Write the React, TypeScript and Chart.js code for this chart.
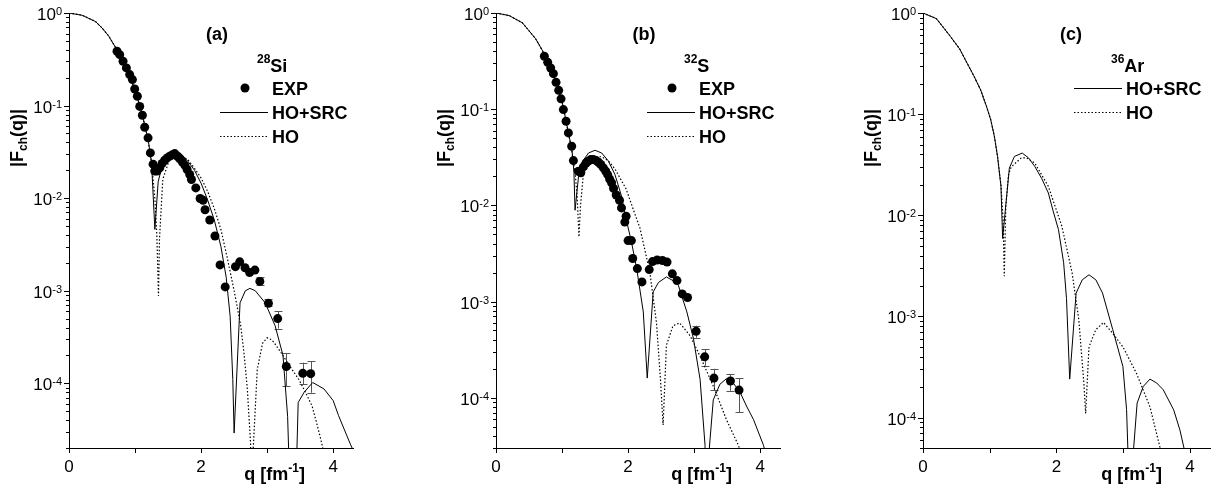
import React, { useEffect, useRef } from 'react';
import { Chart, registerables } from 'chart.js';

Chart.register(...registerables);

// ---------------- DATA ----------------
// x ticks
const xTickValues = [0, 1, 2, 3, 4];
const xLabelValues = [0, 2, 4];

// (a) 28Si
const siExpQ = [0.727, 0.768, 0.818, 0.869, 0.919, 0.96, 0.995, 1.035, 1.071, 1.111, 1.146, 1.197, 1.232, 1.273, 1.298, 1.333, 1.374, 1.409, 1.449, 1.485, 1.525, 1.566, 1.601, 1.626, 1.652, 1.677, 1.717, 1.753, 1.788, 1.828, 1.854, 1.92, 1.985, 2.03, 2.06, 2.131, 2.21, 2.287, 2.365, 2.52, 2.585, 2.665, 2.735, 2.815, 2.89, 3.02, 3.16, 3.29, 3.54, 3.66];
const siExpF = [0.386, 0.355, 0.301, 0.255, 0.216, 0.191, 0.151, 0.126, 0.098, 0.0787, 0.0584, 0.0448, 0.0308, 0.0233, 0.0196, 0.0196, 0.0212, 0.0237, 0.0257, 0.0272, 0.0284, 0.0294, 0.0303, 0.0289, 0.0279, 0.0266, 0.0246, 0.0227, 0.0204, 0.018, 0.0159, 0.0129, 0.0099, 0.0095, 0.0075, 0.0058, 0.0039, 0.0019, 0.0011, 0.00182, 0.00205, 0.00177, 0.00157, 0.00167, 0.00126, 0.00073, 0.0005, 0.000152, 0.000128, 0.000127];
const siErrQ = [2.89, 3.02, 3.16, 3.29, 3.54, 3.66];
const siErrLo = [0.00115, 0.00068, 0.00039, 0.000093, 0.000098, 0.000079];
const siErrHi = [0.0014, 0.00081, 0.0006, 0.00021, 0.000167, 0.000174];
const siSrcQ = [0, 0.2, 0.4, 0.5, 0.6, 0.7, 0.8, 0.9, 1.0, 1.1, 1.15, 1.2, 1.25, 1.3, 1.35, 1.4, 1.5, 1.6, 1.7, 1.8, 1.9, 2.0, 2.1, 2.2, 2.3, 2.38, 2.44, 2.48, 2.5, 2.59, 2.67, 2.74, 2.82, 2.97, 3.12, 3.24, 3.31, 3.33, 3.39, 3.45, 3.47, 3.56, 3.69, 3.86, 4.0, 4.08, 4.26, 4.35];
const siSrcF = [1, 0.945, 0.81, 0.69, 0.565, 0.43, 0.315, 0.222, 0.148, 0.085, 0.06, 0.042, 0.024, 0.0046, 0.015, 0.021, 0.028, 0.032, 0.03, 0.025, 0.02, 0.0145, 0.0095, 0.0058, 0.003, 0.0014, 0.00053, 0.00011, 0.000029, 0.00074, 0.001, 0.00106, 0.001, 0.00074, 0.00042, 0.0002, 0.000044, 0.000015, 1e-7, 0.000018, 0.000062, 0.00008, 0.000102, 0.000087, 0.000065, 0.000045, 0.000022, 0.000016];
const siHoQ = [0, 0.2, 0.4, 0.5, 0.6, 0.7, 0.8, 0.9, 1.0, 1.1, 1.15, 1.2, 1.25, 1.3, 1.33, 1.355, 1.37, 1.42, 1.52, 1.6, 1.7, 1.8, 1.9, 2.0, 2.1, 2.2, 2.3, 2.4, 2.5, 2.6, 2.65, 2.7, 2.75, 2.77, 2.79, 2.85, 2.93, 3.0, 3.07, 3.13, 3.2, 3.28, 3.38, 3.48, 3.58, 3.68, 3.76, 3.83, 3.9];
const siHoF = [1, 0.945, 0.81, 0.69, 0.565, 0.43, 0.315, 0.222, 0.148, 0.085, 0.06, 0.042, 0.024, 0.01, 0.004, 0.00088, 0.0036, 0.016, 0.026, 0.03, 0.029, 0.026, 0.021, 0.0165, 0.0118, 0.0077, 0.0046, 0.0022, 0.001, 0.00042, 0.00021, 0.000087, 0.000022, 1e-7, 0.00002, 0.00014, 0.00027, 0.00031, 0.000295, 0.00026, 0.00022, 0.00018, 0.00014, 0.00011, 0.00008, 0.000057, 0.000035, 0.000022, 0.000012];

// (b) 32S
const sExpQ = [0.732, 0.783, 0.828, 0.869, 0.909, 0.949, 0.985, 1.02, 1.061, 1.096, 1.146, 1.172, 1.247, 1.283, 1.323, 1.364, 1.399, 1.434, 1.475, 1.515, 1.551, 1.586, 1.626, 1.662, 1.69, 1.72, 1.75, 1.78, 1.82, 1.87, 1.9, 1.95, 1.97, 2.0, 2.05, 2.07, 2.14, 2.21, 2.32, 2.37, 2.44, 2.52, 2.59, 2.67, 2.74, 2.82, 2.9, 3.03, 3.16, 3.3, 3.55, 3.68];
const sExpF = [0.355, 0.307, 0.268, 0.234, 0.19, 0.157, 0.128, 0.099, 0.0749, 0.0567, 0.0412, 0.0292, 0.0226, 0.0218, 0.0251, 0.0276, 0.0288, 0.0299, 0.0299, 0.0292, 0.0281, 0.0266, 0.0245, 0.0226, 0.0209, 0.0188, 0.0172, 0.015, 0.0128, 0.0113, 0.0094, 0.0067, 0.0077, 0.0043, 0.0043, 0.0028, 0.0022, 0.0016, 0.00215, 0.0026, 0.0027, 0.00267, 0.00257, 0.00194, 0.00165, 0.0012, 0.0011, 0.00049, 0.000266, 0.00016, 0.000149, 0.00012];
const sErrQ = [3.03, 3.16, 3.3, 3.55, 3.68];
const sErrLo = [0.00042, 0.000215, 0.00012, 0.000118, 0.000071];
const sErrHi = [0.00056, 0.00032, 0.0002, 0.000175, 0.00016];
const sSrcQ = [0, 0.2, 0.4, 0.6, 0.7, 0.8, 0.9, 1.0, 1.05, 1.1, 1.15, 1.18, 1.197, 1.25, 1.3, 1.4, 1.5, 1.6, 1.7, 1.8, 1.9, 1.97, 2.05, 2.13, 2.23, 2.29, 2.38, 2.46, 2.58, 2.68, 2.76, 2.89, 2.99, 3.09, 3.165, 3.2, 3.23, 3.29, 3.39, 3.49, 3.6, 3.7, 3.8, 3.9, 4.05, 4.1];
const sSrcF = [1, 0.94, 0.79, 0.54, 0.41, 0.3, 0.2, 0.12, 0.082, 0.055, 0.038, 0.022, 0.0089, 0.02, 0.028, 0.035, 0.0374, 0.035, 0.029, 0.021, 0.0125, 0.0072, 0.0042, 0.0022, 0.00078, 0.00016, 0.00126, 0.00158, 0.0018, 0.00165, 0.00148, 0.00078, 0.00041, 0.000155, 0.000032, 1e-7, 0.00003, 0.000095, 0.000138, 0.000158, 0.00014, 0.000112, 0.00008, 0.000059, 0.000032, 0.000024];
const sHoQ = [0, 0.2, 0.4, 0.6, 0.7, 0.8, 0.9, 1.0, 1.05, 1.1, 1.15, 1.2, 1.23, 1.256, 1.28, 1.32, 1.4, 1.5, 1.6, 1.7, 1.8, 1.97, 2.08, 2.18, 2.33, 2.43, 2.49, 2.53, 2.58, 2.68, 2.78, 2.94, 3.09, 3.29, 3.49, 3.67, 3.75];
const sHoF = [1, 0.94, 0.79, 0.54, 0.41, 0.3, 0.2, 0.12, 0.082, 0.055, 0.036, 0.021, 0.012, 0.0047, 0.01, 0.02, 0.028, 0.032, 0.032, 0.029, 0.024, 0.0148, 0.009, 0.0058, 0.002, 0.0006, 0.000155, 0.000052, 0.00035, 0.00056, 0.0006, 0.00044, 0.00027, 0.000132, 0.000059, 0.000032, 0.000022];

// (c) 36Ar
const arSrcQ = [0, 0.2, 0.41, 0.55, 0.66, 0.76, 0.863, 0.95, 1.015, 1.07, 1.117, 1.168, 1.193, 1.294, 1.37, 1.487, 1.58, 1.675, 1.78, 1.878, 1.95, 2.03, 2.107, 2.15, 2.198, 2.294, 2.386, 2.487, 2.59, 2.69, 2.843, 2.995, 3.05, 3.08, 3.1, 3.13, 3.208, 3.3, 3.4, 3.5, 3.6, 3.756, 3.85, 3.91, 3.95];
const arSrcF = [1, 0.88, 0.587, 0.44, 0.32, 0.24, 0.174, 0.12, 0.088, 0.06, 0.038, 0.0193, 0.0059, 0.0293, 0.0382, 0.0412, 0.037, 0.0304, 0.023, 0.0166, 0.011, 0.0072, 0.0034, 0.0015, 0.00024, 0.0017, 0.0023, 0.00258, 0.0023, 0.0017, 0.00074, 0.00032, 0.00012, 0.00003, 1e-7, 0.00003, 0.000139, 0.000203, 0.00024, 0.00022, 0.000188, 0.000119, 0.000075, 0.00005, 0.000038];
const arHoQ = [0, 0.2, 0.41, 0.55, 0.66, 0.76, 0.863, 0.95, 1.015, 1.07, 1.117, 1.168, 1.2, 1.218, 1.24, 1.28, 1.32, 1.47, 1.55, 1.675, 1.878, 2.08, 2.234, 2.335, 2.41, 2.437, 2.487, 2.589, 2.706, 2.843, 2.995, 3.198, 3.4, 3.553, 3.6];
const arHoF = [1, 0.88, 0.587, 0.44, 0.32, 0.24, 0.174, 0.12, 0.088, 0.06, 0.038, 0.02, 0.009, 0.0025, 0.012, 0.025, 0.03, 0.0368, 0.037, 0.0328, 0.0193, 0.0078, 0.0027, 0.00092, 0.00022, 0.00011, 0.0005, 0.00074, 0.00087, 0.00068, 0.0005, 0.000274, 0.000128, 0.00005, 0.000035];

// ---------------- LAYOUT / PANELS ----------------
const FONT = '"Liberation Sans", Arial, Helvetica, sans-serif';
const H = 489;

type Panel = {
  left: number; width: number; yWidth: number; padRight: number;
  yMin: number; tag: string; mass: string; sym: string;
  expQ?: number[]; expF?: number[]; errQ?: number[]; errLo?: number[]; errHi?: number[];
  srcQ: number[]; srcF: number[]; hoQ: number[]; hoF: number[];
};

const panels: Panel[] = [
  { left: 0, width: 404, yWidth: 69, padRight: 51, yMin: 2e-5, tag: '(a)', mass: '28', sym: 'Si',
    expQ: siExpQ, expF: siExpF, errQ: siErrQ, errLo: siErrLo, errHi: siErrHi,
    srcQ: siSrcQ, srcF: siSrcF, hoQ: siHoQ, hoF: siHoF },
  { left: 404, width: 404, yWidth: 92, padRight: 28, yMin: 3e-5, tag: '(b)', mass: '32', sym: 'S',
    expQ: sExpQ, expF: sExpF, errQ: sErrQ, errLo: sErrLo, errHi: sErrHi,
    srcQ: sSrcQ, srcF: sSrcF, hoQ: sHoQ, hoF: sHoF },
  { left: 808, width: 404, yWidth: 115, padRight: 2, yMin: 5e-5, tag: '(c)', mass: '36', sym: 'Ar',
    srcQ: arSrcQ, srcF: arSrcF, hoQ: arHoQ, hoF: arHoF },
];

const zip = (q: number[], f: number[]) => q.map((x, i) => ({ x, y: f[i] }));

type Run = { t: string; size: number; bold?: boolean; dy?: number };
function drawRuns(ctx: CanvasRenderingContext2D, x: number, y: number, runs: Run[], align: 'left' | 'right' | 'center') {
  const fontOf = (r: Run) => `${r.bold ? 'bold ' : ''}${r.size}px ${FONT}`;
  let total = 0;
  const widths = runs.map((r) => { ctx.font = fontOf(r); const w = ctx.measureText(r.t).width; total += w; return w; });
  let cx = align === 'right' ? x - total : align === 'center' ? x - total / 2 : x;
  ctx.textAlign = 'left';
  ctx.textBaseline = 'alphabetic';
  runs.forEach((r, i) => { ctx.font = fontOf(r); ctx.fillText(r.t, cx, y + (r.dy || 0)); cx += widths[i]; });
}

function makeDeco(p: Panel) {
  return {
    id: 'deco',
    beforeDatasetsDraw(chart: any) {
      if (!p.errQ) return;
      const ctx: CanvasRenderingContext2D = chart.ctx;
      const xs = chart.scales.x, ys = chart.scales.y;
      ctx.save();
      ctx.strokeStyle = '#555';
      ctx.lineWidth = 1;
      p.errQ.forEach((q, i) => {
        const x = Math.round(xs.getPixelForValue(q)) + 0.5;
        const y1 = ys.getPixelForValue(p.errLo![i]);
        const y2 = ys.getPixelForValue(p.errHi![i]);
        ctx.beginPath();
        ctx.moveTo(x, y1); ctx.lineTo(x, y2);
        ctx.moveTo(x - 4, Math.round(y1) + 0.5); ctx.lineTo(x + 4, Math.round(y1) + 0.5);
        ctx.moveTo(x - 4, Math.round(y2) + 0.5); ctx.lineTo(x + 4, Math.round(y2) + 0.5);
        ctx.stroke();
      });
      ctx.restore();
    },
    afterDraw(chart: any) {
      const ctx: CanvasRenderingContext2D = chart.ctx;
      const xs = chart.scales.x, ys = chart.scales.y;
      const a = chart.chartArea;
      ctx.save();
      ctx.strokeStyle = '#000';
      ctx.fillStyle = '#000';
      ctx.lineWidth = 1;
      // y ticks and labels
      const eMin = Math.floor(Math.log10(p.yMin));
      for (let e = 0; e >= eMin; e--) {
        for (let m = 1; m <= 9; m++) {
          const v = m * Math.pow(10, e);
          if (v > 1.000001 || v < p.yMin * 0.9999) continue;
          const y = Math.round(ys.getPixelForValue(v)) + 0.5;
          const len = m === 1 ? 5 : 3;
          ctx.beginPath(); ctx.moveTo(a.left - len, y); ctx.lineTo(a.left, y); ctx.stroke();
          if (m === 1) {
            drawRuns(ctx, a.left - 7, y + 6.5, [{ t: '10', size: 17 }, { t: String(e), size: 11, dy: -5 }], 'right');
          }
        }
      }
      // x ticks and labels
      xTickValues.forEach((q) => {
        const x = Math.round(xs.getPixelForValue(q)) + 0.5;
        ctx.beginPath(); ctx.moveTo(x, a.bottom); ctx.lineTo(x, a.bottom + 5); ctx.stroke();
      });
      xLabelValues.forEach((q) => {
        const x = xs.getPixelForValue(q);
        drawRuns(ctx, x, a.bottom + 24, [{ t: String(q), size: 17 }], 'center');
      });
      // axis titles
      drawRuns(ctx, a.right - 48, 480, [
        { t: 'q [fm', size: 18, bold: true },
        { t: '-1', size: 12, bold: true, dy: -8 },
        { t: ']', size: 18, bold: true },
      ], 'right');
      ctx.save();
      ctx.translate(a.left - 52, 138);
      ctx.rotate(-Math.PI / 2);
      drawRuns(ctx, 0, 6, [
        { t: '|F', size: 18, bold: true },
        { t: 'ch', size: 12, bold: true, dy: 4 },
        { t: '(q)|', size: 18, bold: true },
      ], 'center');
      ctx.restore();
      // panel tag and isotope
      drawRuns(ctx, a.left + 148, 40, [{ t: p.tag, size: 18, bold: true }], 'center');
      drawRuns(ctx, a.left + 188, 72, [{ t: p.mass, size: 12, bold: true, dy: -9 }, { t: p.sym, size: 18, bold: true }], 'left');
      // legend
      const rows: string[] = [];
      if (p.expQ) rows.push('EXP');
      rows.push('HO+SRC', 'HO');
      rows.forEach((name, i) => {
        const cy = 88 + i * 24;
        if (name === 'EXP') {
          ctx.beginPath(); ctx.arc(a.left + 176, cy, 4.5, 0, Math.PI * 2); ctx.fill();
        } else {
          ctx.save();
          if (name === 'HO') { ctx.setLineDash([1.5, 2]); ctx.lineWidth = 1.2; }
          ctx.beginPath(); ctx.moveTo(a.left + 151, cy + 0.5); ctx.lineTo(a.left + 199, cy + 0.5); ctx.stroke();
          ctx.restore();
        }
        drawRuns(ctx, a.left + 203, cy + 6.5, [{ t: name, size: 18, bold: true }], 'left');
      });
      ctx.restore();
    },
  };
}

function makeConfig(p: Panel): any {
  const datasets: any[] = [];
  if (p.expQ && p.expF) {
    datasets.push({
      type: 'scatter', label: 'EXP', data: zip(p.expQ, p.expF), showLine: false,
      pointRadius: 4.5, pointBackgroundColor: '#000', pointBorderWidth: 0, pointBorderColor: '#000',
    });
  }
  datasets.push({
    type: 'line', label: 'HO+SRC', data: zip(p.srcQ, p.srcF), borderColor: '#000', borderWidth: 1,
    pointRadius: 0, tension: 0, fill: false,
  });
  datasets.push({
    type: 'line', label: 'HO', data: zip(p.hoQ, p.hoF), borderColor: '#000', borderWidth: 1.2,
    borderDash: [1.5, 2], pointRadius: 0, tension: 0, fill: false,
  });
  return {
    type: 'line',
    data: { datasets },
    options: {
      responsive: false,
      animation: false,
      events: [],
      layout: { padding: { left: 0, top: 13, right: p.padRight, bottom: 0 } },
      plugins: { legend: { display: false }, tooltip: { enabled: false } },
      scales: {
        x: {
          type: 'linear', min: 0, max: 4.3,
          grid: { display: false }, ticks: { display: false },
          border: { display: true, color: '#000', width: 1 },
          afterFit: (s: any) => { s.height = H - 448; },
        },
        y: {
          type: 'logarithmic', min: p.yMin, max: 1,
          grid: { display: false }, ticks: { display: false },
          border: { display: true, color: '#000', width: 1 },
          afterFit: (s: any) => { s.width = p.yWidth; },
        },
      },
    },
    plugins: [makeDeco(p)],
  };
}

function PanelChart({ p }: { p: Panel }) {
  const ref = useRef<HTMLCanvasElement>(null);
  useEffect(() => {
    const chart = new Chart(ref.current as HTMLCanvasElement, makeConfig(p));
    return () => chart.destroy();
  }, [p]);
  return (
    <canvas
      ref={ref}
      width={p.width}
      height={H}
      style={{ position: 'absolute', left: p.left, top: 0, width: p.width, height: H }}
    />
  );
}

export default function App() {
  return (
    <div style={{ position: 'absolute', left: 0, top: 0, width: 1212, height: H, background: '#fff' }}>
      {panels.map((p) => (
        <PanelChart key={p.tag} p={p} />
      ))}
    </div>
  );
}
